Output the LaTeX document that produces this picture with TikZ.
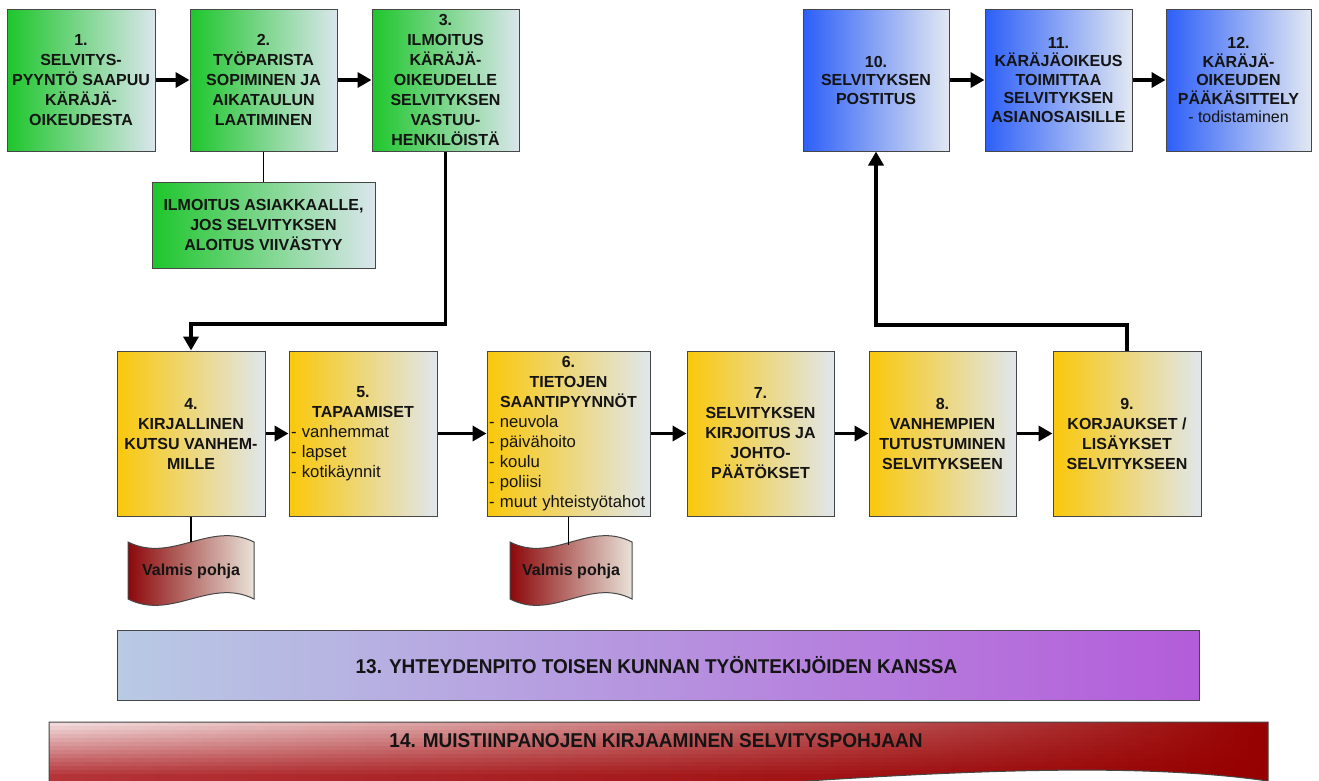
\documentclass[tikz,border=0pt]{standalone}
\usepackage{fontspec}
\setmainfont{Liberation Sans}
\newfontfamily\narrowfont[FakeStretch=0.95]{Liberation Sans}
\usetikzlibrary{arrows.meta,fadings}
\definecolor{bordc}{RGB}{70,70,70}
\definecolor{txt}{RGB}{20,20,20}
\definecolor{gL}{RGB}{30,198,44}
\definecolor{gR}{RGB}{218,230,236}
\definecolor{bL}{RGB}{45,95,248}
\definecolor{bR}{RGB}{226,232,242}
\definecolor{yL}{RGB}{250,200,10}
\definecolor{yR}{RGB}{224,230,236}
\definecolor{pL}{RGB}{184,202,228}
\definecolor{pR}{RGB}{180,92,218}
\definecolor{vL}{RGB}{140,8,10}
\definecolor{vR}{RGB}{232,226,216}
\definecolor{rL}{RGB}{180,52,56}
\definecolor{rR}{RGB}{150,0,0}
\tikzfading[name=glossfade, left color=transparent!0, right color=transparent!100]
\newcommand{\li}[1]{\makebox[\linewidth][l]{\mdseries\fontsize{16.7}{20}\selectfont #1}}
\begin{document}
\begin{tikzpicture}[x=1pt,y=-1pt,
  box/.style={draw=bordc, line width=1pt, inner sep=2pt, align=center, text=txt,
    font=\bfseries\fontsize{16}{20}\selectfont},
  gbox/.style={box, left color=gL, right color=gR},
  bbox/.style={box, left color=bL, right color=bR, font=\bfseries\fontsize{16}{18.5}\selectfont},
  ybox/.style={box, left color=yL, right color=yR},
  arr/.style={line width=3.5pt, -{Triangle[length=14pt,width=15pt]}},
  link/.style={line width=1.5pt},
  vptext/.style={text=txt, font=\bfseries\fontsize{16}{20}\selectfont, inner sep=0pt},
  bandtext/.style={text=txt, font=\narrowfont\bfseries\fontsize{20}{24}\selectfont, inner sep=0pt}]
\useasboundingbox[fill=white] (0,0) rectangle (1319,780);

% top row
\node[gbox, minimum width=148pt, minimum height=142pt] (n1) at (81,80) {1.\\SELVITYS-\\PYYNTÖ SAAPUU\\KÄRÄJÄ-\\OIKEUDESTA};
\node[gbox, minimum width=147pt, minimum height=142pt] (n2) at (263.5,80) {2.\\TYÖPARISTA\\SOPIMINEN JA\\AIKATAULUN\\LAATIMINEN};
\node[gbox, minimum width=147pt, minimum height=142pt] (n3) at (445.5,80) {3.\\ILMOITUS\\KÄRÄJÄ-\\OIKEUDELLE\\SELVITYKSEN\\VASTUU-\\HENKILÖISTÄ};
\node[gbox, minimum width=223pt, minimum height=86pt] (na) at (263.5,225) {ILMOITUS ASIAKKAALLE,\\JOS SELVITYKSEN\\ALOITUS VIIVÄSTYY};

\node[bbox, minimum width=146pt, minimum height=142pt] (n10) at (876,80) {10.\\SELVITYKSEN\\POSTITUS};
\node[bbox, minimum width=147pt, minimum height=142pt] (n11) at (1058.5,80) {11.\\KÄRÄJÄOIKEUS\\TOIMITTAA\\SELVITYKSEN\\ASIANOSAISILLE};
\node[bbox, minimum width=145pt, minimum height=142pt] (n12) at (1238.5,80) {12.\\KÄRÄJÄ-\\OIKEUDEN\\PÄÄKÄSITTELY\\{\mdseries - todistaminen}};

% second row
\node[ybox, minimum width=148pt, minimum height=165pt] (n4) at (191,433.5) {4.\\KIRJALLINEN\\KUTSU VANHEM-\\MILLE};
\node[ybox, minimum width=148pt, minimum height=165pt, text width=144pt] (n5) at (363,433.5) {5.\\TAPAAMISET\\\li{- vanhemmat}\\\li{- lapset}\\\li{- kotikäynnit}};
\node[ybox, minimum width=163pt, minimum height=165pt, text width=159pt] (n6) at (568.5,433.5) {6.\\TIETOJEN\\SAANTIPYYNNÖT\\\li{- neuvola}\\\li{- päivähoito}\\\li{- koulu}\\\li{- poliisi}\\\li{- muut yhteistyötahot}};
\node[ybox, minimum width=147pt, minimum height=165pt] (n7) at (760.5,433.5) {7.\\SELVITYKSEN\\KIRJOITUS JA\\JOHTO-\\PÄÄTÖKSET};
\node[ybox, minimum width=147pt, minimum height=165pt] (n8) at (942.5,433.5) {8.\\VANHEMPIEN\\TUTUSTUMINEN\\SELVITYKSEEN};
\node[ybox, minimum width=148pt, minimum height=165pt] (n9) at (1127,433.5) {9.\\KORJAUKSET /\\LISÄYKSET\\SELVITYKSEEN};

% Valmis pohja shapes
\draw[bordc, line width=1pt, left color=vL, right color=vR] (128,542) .. controls (172,564) and (210,520) .. (254,542) -- (254,599) .. controls (210,577) and (172,621) .. (128,599) -- cycle;
\node[vptext] (vp1) at (191,571) {Valmis pohja};
\coordinate (vp1top) at (191,542);
\draw[bordc, line width=1pt, left color=vL, right color=vR] (510,542) .. controls (553,564) and (589,520) .. (632,542) -- (632,599) .. controls (589,577) and (553,621) .. (510,599) -- cycle;
\node[vptext] (vp2) at (571,571) {Valmis pohja};
\coordinate (vp2top) at (568.5,545);

% band 13
\node[draw=bordc, line width=1pt, left color=pL, right color=pR, minimum width=1082pt, minimum height=70pt, inner sep=0pt] (n13) at (658,665) {};
\node[bandtext] (t13) at (656.5,665) {13. YHTEYDENPITO TOISEN KUNNAN TYÖNTEKIJÖIDEN KANSSA};

% band 14 (document shape)
\path[left color=rL, right color=rR] (49,722) -- (1268,722) -- (1268,781) .. controls (1050,750) and (700,790) .. (49,840) -- cycle;
\begin{scope}
\clip (49,722) -- (1268,722) -- (1268,781) .. controls (1050,750) and (700,790) .. (49,840) -- cycle;
\foreach \i in {0,...,12} {
  \pgfmathsetmacro\op{0.82*(1-\i/13)}
  \fill[white, opacity=\op, path fading=glossfade] (49,722+4*\i) rectangle (1268,726.3+4*\i);
}
\end{scope}
\draw[bordc, line width=1pt] (49,722) -- (1268,722) -- (1268,781) .. controls (1050,750) and (700,790) .. (49,840) -- cycle;
\node[bandtext] (t14) at (656,741) {14. MUISTIINPANOJEN KIRJAAMINEN SELVITYSPOHJAAN};

% connectors
\draw[arr] (n1.east) -- (n2.west);
\draw[arr] (n2.east) -- (n3.west);
\draw[arr] (n10.east) -- (n11.west);
\draw[arr] (n11.east) -- (n12.west);
\draw[arr] (n4.east) -- (n5.west);
\draw[arr] (n5.east) -- (n6.west);
\draw[arr] (n6.east) -- (n7.west);
\draw[arr] (n7.east) -- (n8.west);
\draw[arr] (n8.east) -- (n9.west);
\draw[link] (n2.south) -- (na.north);
\draw[link] (n4.south) -- (vp1top);
\draw[link] (n6.south) -- (vp2top);
\draw[arr] (n3.south) -- (n3.south |- 0,324) -- (n4.north |- 0,324) -- (n4.north);
\draw[arr] (n9.north) -- (n9.north |- 0,325) -- (n10.south |- 0,325) -- (n10.south);
\end{tikzpicture}
\end{document}
